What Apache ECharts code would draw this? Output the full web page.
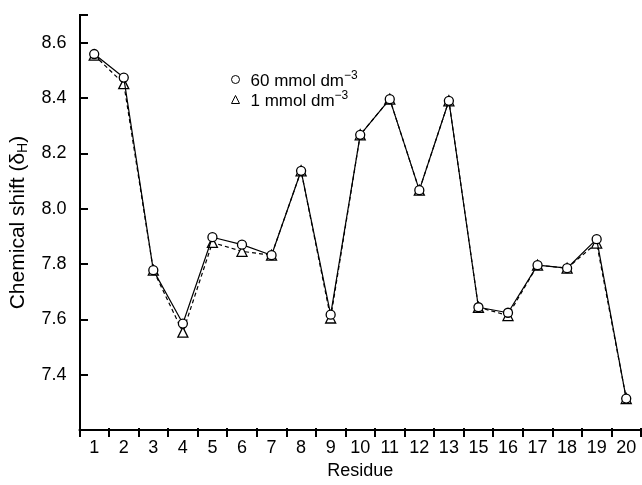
<!DOCTYPE html>
<html>
<head>
<meta charset="utf-8">
<style>
  html, body { margin: 0; padding: 0; background: #fff; }
  #chart { width: 642px; height: 485px; }
</style>
<script src="https://cdn.jsdelivr.net/npm/echarts@6/dist/echarts.min.js"></script>
</head>
<body>
<div id="chart"></div>
<script>
// residue numbers (14 is missing in the source)
var residues = ['1','2','3','4','5','6','7','8','9','10','11','12','13','15','16','17','18','19','20'];
// chemical shift at 60 mmol dm-3
var shift60 = [8.559, 8.474, 7.778, 7.585, 7.897, 7.870, 7.832, 8.137, 7.617, 8.267, 8.396, 8.067, 8.390, 7.644, 7.624, 7.796, 7.785, 7.890, 7.314];
// chemical shift at 1 mmol dm-3
var shift1 = [8.555, 8.452, 7.778, 7.554, 7.878, 7.846, 7.832, 8.137, 7.605, 8.267, 8.396, 8.067, 8.390, 7.644, 7.614, 7.796, 7.785, 7.876, 7.314];
var yTicks = [7.4, 7.6, 7.8, 8.0, 8.2, 8.4, 8.6];

var font = 'Liberation Sans, Arial, sans-serif';
var gridL = 79, gridR = 1, gridT = 15, gridB = 48;
var W = 642, H = 485;
var chart = echarts.init(document.getElementById('chart'));

var tickStyle = { color: '#000', width: 2 };

var option = {
  backgroundColor: '#fff',
  animation: false,
  textStyle: { fontFamily: font, color: '#000' },
  grid: { left: gridL, right: gridR, top: gridT, bottom: gridB },
  legend: {
    orient: 'vertical',
    left: 226,
    top: 65,
    itemWidth: 8,
    itemHeight: 8,
    itemGap: 0,
    data: [
      { name: '60 mmol', icon: 'circle' },
      { name: '1 mmol', icon: 'triangle' }
    ],
    itemStyle: { color: '#fff', borderColor: '#000', borderWidth: 1 },
    lineStyle: { width: 0 },
    formatter: function (name) {
      return '{t|' + name + ' dm}{s|−3}';
    },
    textStyle: {
      fontFamily: font,
      color: '#000',
      rich: {
        t: { fontSize: 17, fontFamily: font, color: '#000', padding: [4, 0, 0, 6] },
        s: { fontSize: 12, fontFamily: font, color: '#000', padding: [0, 0, 7, 0] }
      }
    }
  },
  xAxis: [
    {
      type: 'category',
      data: residues,
      boundaryGap: true,
      name: 'Residue',
      nameLocation: 'middle',
      nameGap: 29,
      nameTextStyle: { fontSize: 18, fontFamily: font, color: '#000' },
      axisLine: { show: true, lineStyle: { color: '#000', width: 2 } },
      axisTick: { show: false },
      axisLabel: { fontSize: 18, fontFamily: font, color: '#000', margin: 9, interval: 0 },
      splitLine: { show: false }
    },
    {
      // helper axis, only draws the upward ticks on the bottom axis
      type: 'category',
      data: residues,
      boundaryGap: true,
      position: 'top',
      offset: -(H - gridT - gridB),
      axisLine: { show: false },
      axisTick: { show: true, length: 9, interval: 0, lineStyle: tickStyle },
      axisLabel: { show: false },
      splitLine: { show: false }
    }
  ],
  yAxis: [
    {
      type: 'value',
      min: 7.2,
      max: 8.7,
      interval: 0.2,
      name: 'Chemical shift (δ{sub|H})',
      nameLocation: 'middle',
      nameRotate: 90,
      nameGap: 48,
      nameTextStyle: {
        fontSize: 21, fontFamily: font, color: '#000',
        rich: { sub: { fontSize: 14, fontFamily: font, color: '#000', padding: [10, 0, 0, 0] } }
      },
      axisLine: { show: true, lineStyle: { color: '#000', width: 2 } },
      axisTick: { show: false },
      axisLabel: {
        fontSize: 18, fontFamily: font, color: '#000', margin: 13,
        showMinLabel: false,
        showMaxLabel: false,
        formatter: function (v) { return yTicks.indexOf(+v.toFixed(1)) >= 0 ? v.toFixed(1) : ''; }
      },
      splitLine: { show: false }
    },
    {
      // helper axis, only draws the right pointing ticks on the left axis
      type: 'value',
      min: 7.2,
      max: 8.7,
      interval: 0.2,
      position: 'right',
      offset: -(W - gridL - gridR),
      axisLine: { show: false },
      axisTick: { show: true, length: 9, lineStyle: tickStyle },
      axisLabel: { show: false },
      splitLine: { show: false }
    }
  ],
  series: [
    {
      name: '1 mmol',
      type: 'line',
      data: shift1,
      symbol: 'triangle',
      symbolSize: 10,
      lineStyle: { color: '#000', width: 1.2, type: [4, 3] },
      itemStyle: { color: '#fff', borderColor: '#000', borderWidth: 1.3 },
      z: 2
    },
    {
      name: '60 mmol',
      type: 'line',
      data: shift60,
      symbol: 'circle',
      symbolSize: 9,
      lineStyle: { color: '#000', width: 1.2 },
      itemStyle: { color: '#fff', borderColor: '#000', borderWidth: 1.3 },
      z: 3
    }
  ]
};

chart.setOption(option);
</script>
</body>
</html>
